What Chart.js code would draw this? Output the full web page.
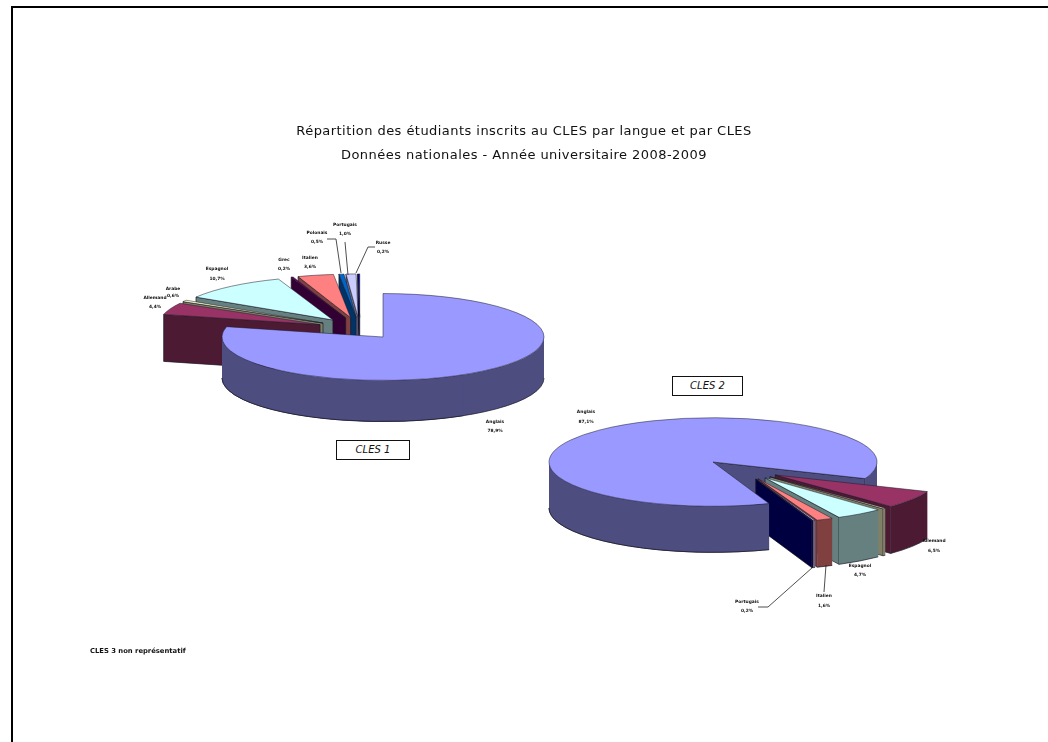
<!DOCTYPE html>
<html lang="fr">
<head>
<meta charset="utf-8">
<title>Répartition des étudiants inscrits au CLES</title>
<script src="https://cdn.jsdelivr.net/npm/chart.js@4"></script>
<style>
  html, body { margin: 0; padding: 0; background: #fff; }
  #page { position: relative; width: 1048px; height: 742px; overflow: hidden; filter: blur(0.4px); }
  #page canvas { position: absolute; left: 0; top: 0; }
  #frame { position: absolute; left: 11px; top: 6px; width: 1100px; height: 800px; border-left: 2px solid #000; border-top: 2px solid #000; }
  .box { position: absolute; background: #fff; border: 1.5px solid #111; text-align: center;
         font: italic 10px "DejaVu Sans", sans-serif; color: #111; box-sizing: border-box; }
  #note { position: absolute; left: 90px; top: 647px; font: bold 6.8px "DejaVu Sans", sans-serif; color: #111; white-space: nowrap; }
</style>
</head>
<body>
<div id="page">
  <div id="frame"></div>
  <canvas id="cles1" width="1048" height="742"></canvas>
  <canvas id="cles2" width="1048" height="742"></canvas>
  <div class="box" style="left:336px;top:440px;width:74px;height:20px;line-height:17px">CLES 1</div>
  <div class="box" style="left:672px;top:376px;width:71px;height:20px;line-height:17px">CLES 2</div>
  <div id="note">CLES 3 non représentatif</div>
</div>
<script>
const languages1 = ['Anglais', 'Allemand', 'Arabe', 'Espagnol', 'Grec', 'Italien', 'Polonais', 'Portugais', 'Russe'];
const values1 = [78.9, 4.4, 0.6, 10.7, 0.2, 3.6, 0.5, 1.0, 0.2];

// Arabe and Russe have no readable label in CLES 2, their values are estimated from the slivers
const languages2 = ['Anglais', 'Allemand', 'Arabe', 'Espagnol', 'Italien', 'Portugais', 'Russe'];
const values2 = [87.1, 6.5, 0.3, 4.7, 1.6, 0.2, 0.1];

const titleLines = [
  'Répartition des étudiants inscrits au CLES par langue et par CLES',
  'Données nationales - Année universitaire 2008-2009'
];

// top face / side wall colour per language
const topColors = {
  Anglais: '#9999ff', Allemand: '#993366', Arabe: '#ffffcc', Espagnol: '#ccffff', Grec: '#660066',
  Italien: '#ff8080', Polonais: '#0066cc', Portugais: '#ccccff', Russe: '#000080'
};
const sideColors = {
  Anglais: '#4d4d80', Allemand: '#4d1a33', Arabe: '#808066', Espagnol: '#668080', Grec: '#330033',
  Italien: '#804040', Polonais: '#003366', Portugais: '#666680', Russe: '#000040'
};

// label centre x, first line y, second line y
const labelPos1 = {
  Anglais: [495, 422, 431], Allemand: [155, 298, 307], Arabe: [173, 289, 296], Espagnol: [217, 269, 279],
  Grec: [284, 260, 269], Italien: [310, 258, 267], Polonais: [317, 233, 242], Portugais: [345, 225, 234],
  Russe: [383, 243, 252]
};
const labelPos2 = {
  Anglais: [586, 412, 422], Allemand: [934, 541, 551], Espagnol: [860, 566, 575],
  Italien: [824, 596, 606], Portugais: [747, 602, 611]
};
const leaders1 = [
  [[327, 239], [336, 239], [341, 273]],
  [[345, 242], [348, 275]],
  [[375, 247], [368, 247], [356, 273]]
];
const leaders2 = [
  [[824, 592], [826, 565]],
  [[758, 607], [768, 607], [813, 567]]
];

// Chart.js arc offset also grows the radius, so slices are pulled out here instead.
// Small slices share one extra group shift on top of their radial explode.
function arcShift(arc, g) {
  if (arc.$main) return { x: 0, y: 0 };
  const half = (arc.startAngle + arc.endAngle) / 2;
  return {
    x: g.groupX + Math.cos(half) * g.explode,
    y: g.groupY + Math.sin(half) * g.explode * g.squash
  };
}

function depthOf(arc, g) {
  return arc.$main ? g.depth : g.sliceDepth;
}

// rim of a slice, only the part between from and to (canvas angles, 0..PI faces the viewer)
function drawRim(ctx, g, arc, color, from, to) {
  const r = arc.outerRadius;
  const o = arcShift(arc, g);
  const x = g.cx + o.x, y = g.cy + o.y;
  const depth = depthOf(arc, g);
  for (let n = -1; n <= 1; n++) {
    const a = Math.max(arc.startAngle, from + n * 2 * Math.PI);
    const b = Math.min(arc.endAngle, to + n * 2 * Math.PI);
    if (b <= a) continue;
    ctx.beginPath();
    ctx.ellipse(x, y, r, r * g.squash, 0, a, b);
    ctx.ellipse(x, y + depth, r, r * g.squash, 0, b, a, true);
    ctx.closePath();
    ctx.fillStyle = color;
    ctx.fill();
    ctx.beginPath();
    ctx.ellipse(x, y + depth, r, r * g.squash, 0, a, b);
    ctx.lineWidth = 0.7;
    ctx.strokeStyle = '#1a1a2a';
    ctx.stroke();
  }
}

// flat side of a slice running from the apex to the rim at one angle
function drawCut(ctx, g, arc, color, angle) {
  const r = arc.outerRadius;
  const o = arcShift(arc, g);
  const depth = depthOf(arc, g);
  const x0 = g.cx + o.x, y0 = g.cy + o.y;
  const x1 = x0 + Math.cos(angle) * r, y1 = y0 + Math.sin(angle) * r * g.squash;
  ctx.beginPath();
  ctx.moveTo(x0, y0);
  ctx.lineTo(x1, y1);
  ctx.lineTo(x1, y1 + depth);
  ctx.lineTo(x0, y0 + depth);
  ctx.closePath();
  ctx.fillStyle = color;
  ctx.fill();
  ctx.lineWidth = 0.7;
  ctx.strokeStyle = '#1a1a2a';
  ctx.stroke();
}

function drawCuts(ctx, g, arc, color) {
  if (Math.cos(arc.startAngle) < 0) drawCut(ctx, g, arc, color, arc.startAngle);
  if (Math.cos(arc.endAngle) > 0) drawCut(ctx, g, arc, color, arc.endAngle);
}

function drawTop(chart, g, arc) {
  const ctx = chart.ctx;
  const o = arcShift(arc, g);
  ctx.save();
  ctx.translate(g.cx + o.x, g.cy + o.y);
  ctx.scale(1, g.squash);
  ctx.translate(-arc.x, -arc.y);
  arc.draw(ctx, chart.chartArea);
  ctx.restore();
}

// Squashes the pie and extrudes it, back slices first, then adds labels and leader lines
const pie3d = {
  id: 'pie3d',
  beforeDraw(chart) {
    chart.ctx.letterSpacing = '0.45px'; // only the title is drawn before the datasets
  },
  beforeDatasetsDraw(chart, args, g) {
    const ctx = chart.ctx;
    ctx.letterSpacing = '0px';
    const arcs = chart.getDatasetMeta(0).data;
    const names = chart.data.labels;
    const main = arcs[0];
    main.$main = true;
    const others = arcs.slice(1).map((arc, i) => ({ arc, name: names[i + 1] }));
    others.sort((p, q) => arcShift(p.arc, g).y - arcShift(q.arc, g).y);

    drawCuts(ctx, g, main, sideColors[names[0]]);
    drawRim(ctx, g, main, sideColors[names[0]], 0, Math.PI);
    others.forEach(({ arc, name }) => {
      drawCuts(ctx, g, arc, sideColors[name]);
      drawRim(ctx, g, arc, sideColors[name], 0, Math.PI);
      drawTop(chart, g, arc);
    });
    drawRim(ctx, g, main, sideColors[names[0]], Math.PI / 3, Math.PI);
    drawTop(chart, g, main);

    ctx.strokeStyle = '#222';
    ctx.lineWidth = 0.8;
    g.leaders.forEach(pts => {
      ctx.beginPath();
      pts.forEach(([x, y], i) => (i ? ctx.lineTo(x, y) : ctx.moveTo(x, y)));
      ctx.stroke();
    });

    ctx.fillStyle = '#111';
    ctx.font = 'bold 4.4px "DejaVu Sans", sans-serif';
    ctx.textAlign = 'center';
    ctx.textBaseline = 'middle';
    names.forEach((name, i) => {
      const pos = g.labels[name];
      if (!pos) return;
      const value = chart.data.datasets[0].data[i].toFixed(1).replace('.', ',') + '%';
      ctx.fillText(name, pos[0], pos[1]);
      ctx.fillText(value, pos[0], pos[2]);
    });
    return false;
  }
};

function makePie(id, languages, values, settings, title) {
  return new Chart(document.getElementById(id), {
    type: 'pie',
    data: {
      labels: languages,
      datasets: [{
        data: values,
        backgroundColor: languages.map(l => topColors[l]),
        borderColor: '#1a1a2a',
        borderWidth: 0.8
      }]
    },
    options: {
      responsive: false,
      animation: false,
      events: [],
      rotation: settings.rotation,
      radius: settings.radius,
      plugins: {
        legend: { display: false },
        tooltip: { enabled: false },
        title: title,
        pie3d: settings
      }
    },
    plugins: [pie3d]
  });
}

makePie('cles1', languages1, values1, {
  cx: 383, cy: 337, squash: 0.27, depth: 41, sliceDepth: 47, radius: 161, rotation: 0,
  explode: 43, groupX: -23, groupY: -8,
  labels: labelPos1, leaders: leaders1
}, {
  display: true,
  text: titleLines,
  color: '#111',
  font: { family: '"DejaVu Sans", sans-serif', size: 13, weight: 'normal', lineHeight: 1.85 },
  padding: { top: 120, bottom: 0 }
});

makePie('cles2', languages2, values2, {
  cx: 713, cy: 462, squash: 0.27, depth: 46, sliceDepth: 47, radius: 164, rotation: 160,
  explode: 40, groupX: 29, groupY: 7,
  labels: labelPos2, leaders: leaders2
}, { display: false });
</script>
</body>
</html>
